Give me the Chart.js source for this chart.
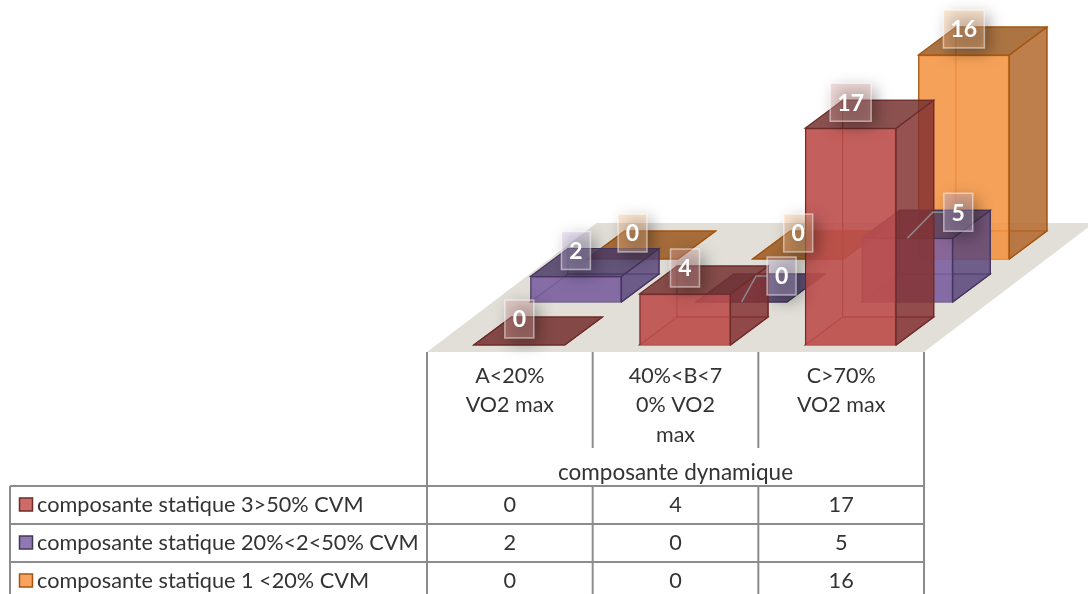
<!DOCTYPE html>
<html>
<head>
<meta charset="utf-8">
<title>composante dynamique / statique</title>
<script src="https://cdn.jsdelivr.net/npm/chart.js@4/dist/chart.umd.min.js"></script>
<style>
  html, body { margin: 0; padding: 0; background: #fff; }
  canvas { display: block; }
</style>
</head>
<body>
<canvas id="myChart" width="1088" height="594"></canvas>
<script>
// data
const categories = [["A<20%", "VO2 max"], ["40%<B<7", "0% VO2", "max"], ["C>70%", "VO2 max"]];
const seriesNames = ["composante statique 3>50% CVM", "composante statique 20%<2<50% CVM", "composante statique 1 <20% CVM"];
const statique3 = [0, 4, 17];
const statique2 = [2, 0, 5];
const statique1 = [0, 0, 16];
const xTitle = "composante dynamique";

// colours per series: red, purple, orange
const frontColors = ["rgba(188,78,75,0.9)", "rgba(124,96,160,0.9)", "rgba(245,148,66,0.88)"];
const sideColors = ["rgba(132,50,50,0.85)", "rgba(90,70,125,0.85)", "rgba(180,105,45,0.85)"];
const topColors = ["rgba(118,50,48,0.85)", "rgba(76,60,104,0.85)", "rgba(158,92,34,0.85)"];
const floorColors = ["rgba(112,42,40,0.12)", "rgba(72,54,100,0.12)", "rgba(152,82,22,0.12)"];
const edgeColors = ["#6e2c2a", "#46365e", "#a3540f"];
const swatchColors = ["#cd6b68", "#9079b3", "#f8a45f"];
const labelTints = ["rgba(225,165,165,0.36)", "rgba(195,180,222,0.36)", "rgba(252,195,145,0.36)"];

// oblique projection
const FRONT = { dx: 9.5, dy: -7 };
const ROW = { dx: 56.6, dy: -43 };
const DEPTH = { dx: 37.5, dy: -28 };
const TEXT = "#333333";
const GRID = "#8c8c8c";
const FONT = "Lato, Carlito, 'Open Sans', sans-serif";
const TABLE_ROWS = [486, 524, 562];
// labels pulled sideways with a leader line: [series, category, shift]
const movedLabels = [[1, 1, 40], [1, 2, 51]];

const rowOffset = (i) => ({ x: FRONT.dx + i * ROW.dx, y: FRONT.dy + i * ROW.dy });

function face(ctx, pts, fill, stroke) {
  ctx.beginPath();
  pts.forEach((p, i) => (i ? ctx.lineTo(p[0], p[1]) : ctx.moveTo(p[0], p[1])));
  ctx.closePath();
  if (fill) {
    ctx.fillStyle = fill;
    ctx.fill();
  }
  if (stroke) {
    ctx.strokeStyle = stroke;
    ctx.lineWidth = 1.2;
    ctx.stroke();
  }
}

const box3d = {
  id: "box3d",
  beforeDatasetsDraw(chart) {
    // the floor under the bars
    const { ctx, chartArea: a } = chart;
    const dx = ROW.dx * 3;
    const dy = ROW.dy * 3;
    face(ctx, [[a.left, a.bottom], [a.right, a.bottom], [a.right + dx, a.bottom + dy], [a.left + dx, a.bottom + dy]], "#e1dfd8");
  },
  beforeDatasetDraw(chart, args) {
    const { ctx } = chart;
    const i = args.index;
    const o = rowOffset(i);
    ctx.save();
    ctx.translate(o.x, o.y);
    // faces behind the front one
    args.meta.data.forEach((bar) => {
      const l = bar.x - bar.width / 2, r = bar.x + bar.width / 2;
      const t = bar.y, b = bar.base;
      const d = DEPTH;
      face(ctx, [[l, b], [r, b], [r + d.dx, b + d.dy], [l + d.dx, b + d.dy]], floorColors[i], edgeColors[i]);
      if (b - t > 0.5) {
        face(ctx, [[l + d.dx, t + d.dy], [r + d.dx, t + d.dy], [r + d.dx, b + d.dy], [l + d.dx, b + d.dy]], null, edgeColors[i]);
      }
    });
  },
  afterDatasetDraw(chart, args) {
    const { ctx } = chart;
    const i = args.index;
    args.meta.data.forEach((bar) => {
      const l = bar.x - bar.width / 2, r = bar.x + bar.width / 2;
      const t = bar.y, b = bar.base;
      const d = DEPTH;
      if (b - t > 0.5) {
        face(ctx, [[r, t], [r + d.dx, t + d.dy], [r + d.dx, b + d.dy], [r, b]], sideColors[i], edgeColors[i]);
      }
      face(ctx, [[l, t], [r, t], [r + d.dx, t + d.dy], [l + d.dx, t + d.dy]], topColors[i], edgeColors[i]);
    });
    ctx.restore();
  },
  afterDatasetsDraw(chart) {
    const { ctx } = chart;
    // draw back to front so the front labels stay on top
    for (let i = chart.data.datasets.length - 1; i >= 0; i--) {
      const o = rowOffset(i);
      chart.getDatasetMeta(i).data.forEach((bar, c) => {
        const value = chart.data.datasets[i].data[c];
        const moved = movedLabels.find((m) => m[0] === i && m[1] === c);
        const shift = moved ? moved[2] : 0;
        const ax = bar.x + o.x, ay = bar.y + o.y;
        const cx = ax + shift, cy = ay - 26;
        const text = String(value);
        const w = text.length > 1 ? 41 : 29, h = 38;
        if (moved) {
          ctx.beginPath();
          ctx.moveTo(ax, ay);
          ctx.lineTo(cx - w / 2 - 11, cy);
          ctx.lineTo(cx - w / 2, cy);
          ctx.strokeStyle = GRID;
          ctx.lineWidth = 1.5;
          ctx.stroke();
        }
        // soft shadow only, the box itself is off the canvas
        ctx.save();
        ctx.shadowColor = "rgba(0,0,0,0.34)";
        ctx.shadowBlur = 16;
        ctx.shadowOffsetX = 3000 + 5;
        ctx.shadowOffsetY = 5;
        ctx.fillStyle = "#000";
        ctx.fillRect(cx - w / 2 - 3000, cy - h / 2, w, h);
        ctx.restore();
        ctx.fillStyle = labelTints[i];
        ctx.fillRect(cx - w / 2, cy - h / 2, w, h);
        ctx.strokeStyle = "rgba(255,255,255,0.5)";
        ctx.lineWidth = 1.5;
        ctx.strokeRect(cx - w / 2, cy - h / 2, w, h);
        ctx.fillStyle = "#fff";
        ctx.font = "bold 23px " + FONT;
        ctx.textAlign = "center";
        ctx.textBaseline = "middle";
        ctx.fillText(text, cx, cy + 1);
      });
    }
  },
  afterDraw(chart) {
    // data table under the plot
    const { ctx, chartArea: a, scales: { x } } = chart;
    const step = x.getPixelForTick(1) - x.getPixelForTick(0);
    const h = chart.height;
    ctx.save();
    ctx.strokeStyle = GRID;
    ctx.lineWidth = 2;
    const line = (x1, y1, x2, y2) => {
      ctx.beginPath();
      ctx.moveTo(x1, y1);
      ctx.lineTo(x2, y2);
      ctx.stroke();
    };
    line(a.left, a.bottom, a.left, h);
    line(a.right, a.bottom, a.right, h);
    line(a.left + step, a.bottom, a.left + step, 448);
    line(a.left + 2 * step, a.bottom, a.left + 2 * step, 448);
    line(a.left + step, TABLE_ROWS[0], a.left + step, h);
    line(a.left + 2 * step, TABLE_ROWS[0], a.left + 2 * step, h);
    line(10, TABLE_ROWS[0], 10, h);
    TABLE_ROWS.forEach((y) => line(10, y, a.right, y));

    ctx.font = "21.7px " + FONT;
    ctx.textBaseline = "middle";
    chart.data.datasets.forEach((ds, i) => {
      const y = TABLE_ROWS[i] + 19;
      ctx.fillStyle = swatchColors[i];
      ctx.strokeStyle = edgeColors[i];
      ctx.lineWidth = 1.5;
      ctx.fillRect(19.5, y - 7, 13, 13);
      ctx.strokeRect(19.5, y - 7, 13, 13);
      ctx.fillStyle = TEXT;
      ctx.textAlign = "left";
      ctx.fillText(seriesNames[i], 37, y);
      ctx.textAlign = "center";
      ds.data.forEach((v, c) => ctx.fillText(String(v), x.getPixelForTick(c), y));
    });
    ctx.restore();
  },
};

new Chart(document.getElementById("myChart"), {
  type: "bar",
  data: {
    labels: categories,
    datasets: [
      { label: seriesNames[0], data: statique3, backgroundColor: frontColors[0], borderColor: edgeColors[0] },
      { label: seriesNames[1], data: statique2, backgroundColor: frontColors[1], borderColor: edgeColors[1] },
      { label: seriesNames[2], data: statique1, backgroundColor: frontColors[2], borderColor: edgeColors[2] },
    ],
  },
  options: {
    responsive: false,
    animation: false,
    layout: { padding: { left: 427, right: 164, top: 33.25, bottom: 108 } },
    datasets: { bar: { grouped: false, barThickness: 91, borderWidth: 1.2, clip: false } },
    plugins: { legend: { display: false }, tooltip: { enabled: false } },
    scales: {
      x: {
        afterFit(scale) {
          scale.height = 134;
        },
        grid: { display: false, drawTicks: false },
        border: { display: false },
        ticks: {
          autoSkip: false,
          maxRotation: 0,
          padding: 9,
          color: TEXT,
          font: { family: FONT, size: 21.5, lineHeight: "29.5px" },
        },
        title: {
          display: true,
          text: xTitle,
          color: TEXT,
          font: { family: FONT, size: 22.5 },
          padding: { top: 0, bottom: 0 },
        },
      },
      y: { display: false, min: 0, max: 25 },
    },
  },
  plugins: [box3d],
});
</script>
</body>
</html>
